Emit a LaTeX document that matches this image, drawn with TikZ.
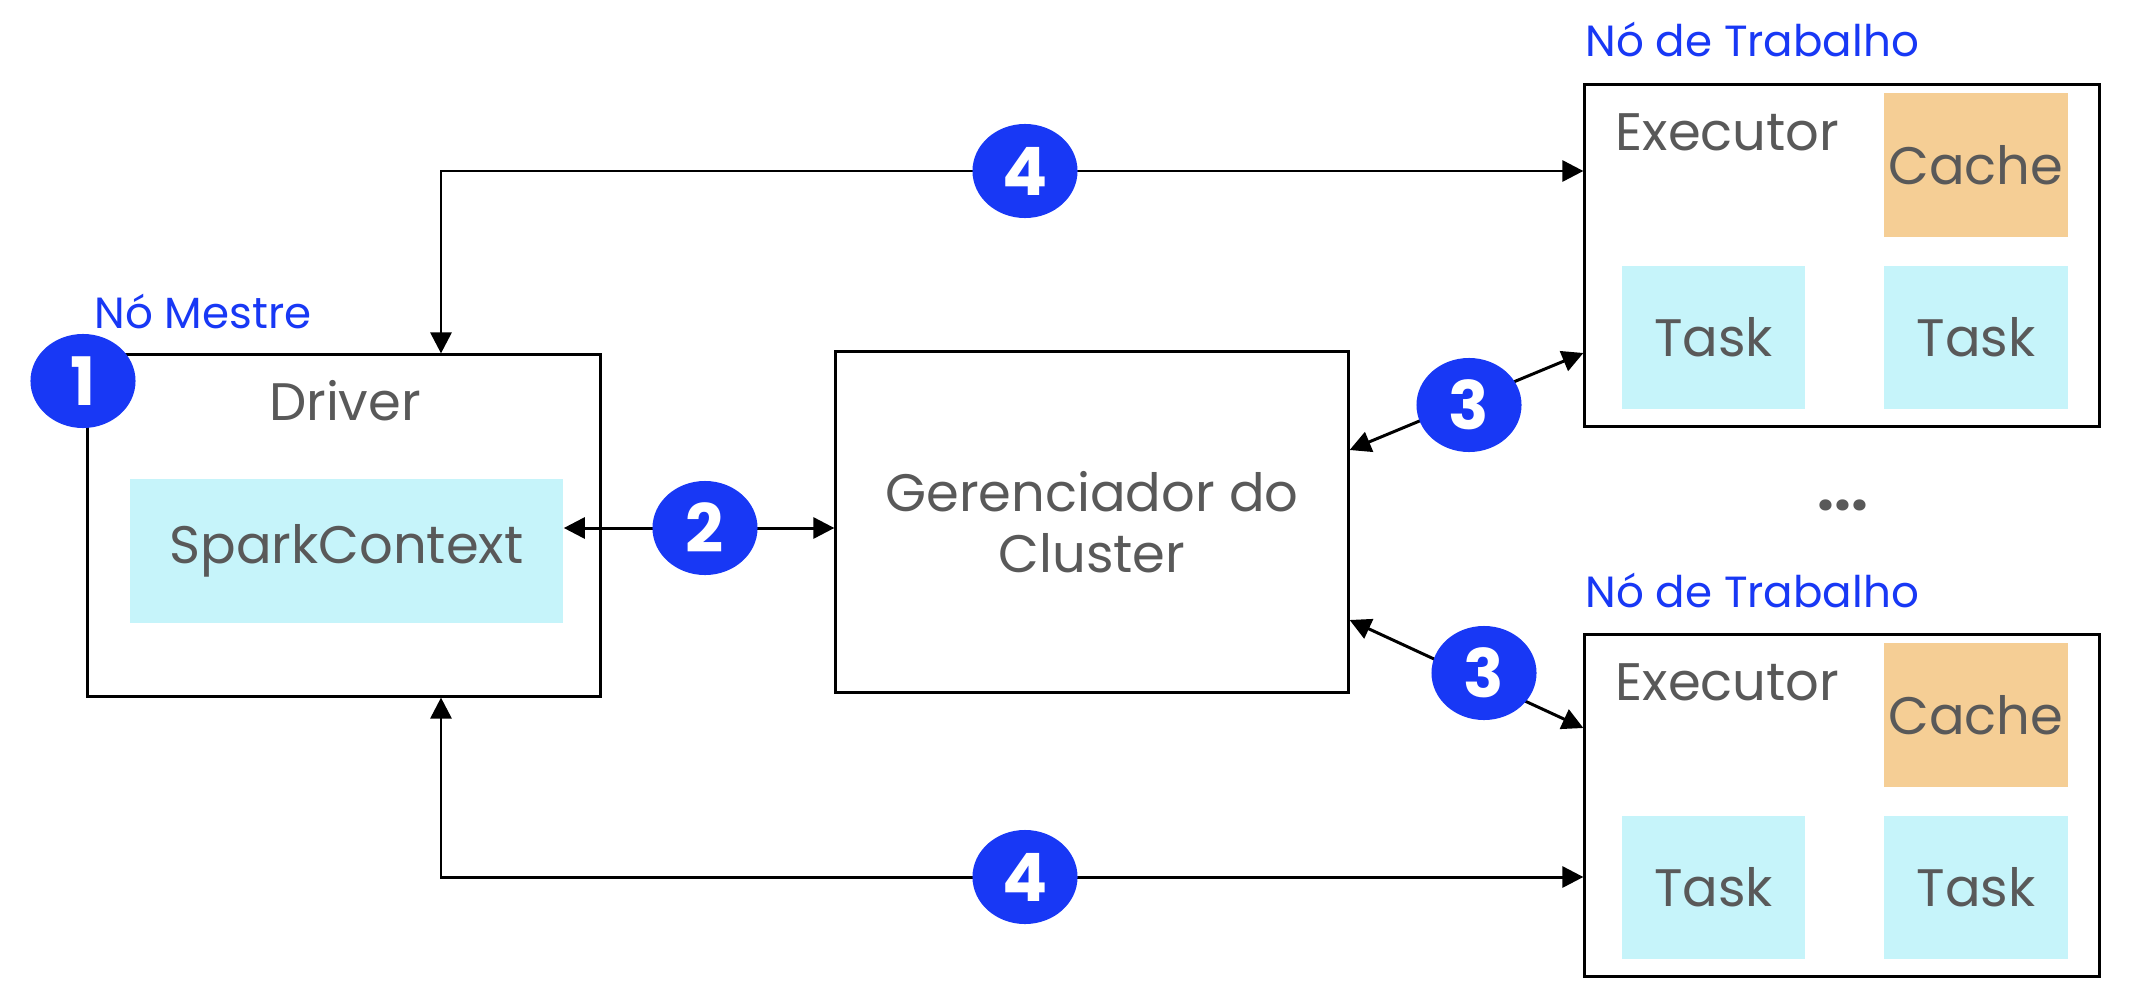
\documentclass[tikz,border=0pt]{standalone}
\usepackage{fontspec}
\setmainfont{Poppins}
\usetikzlibrary{arrows.meta,calc,shapes.geometric}
\definecolor{bblue}{RGB}{24,56,245}
\definecolor{tgray}{RGB}{89,89,89}
\definecolor{lcyan}{RGB}{198,244,250}
\definecolor{lorange}{RGB}{245,206,149}
\begin{document}
\begin{tikzpicture}[x=0.01cm,y=-0.01cm,
  box/.style={draw=black,line width=0.85pt,fill=white,inner sep=0pt},
  cyanbox/.style={fill=lcyan,inner sep=0pt,text=tgray,font=\fontsize{15}{17.4}\selectfont},
  cachebox/.style={fill=lorange,inner sep=0pt,text=tgray,font=\fontsize{15}{17.4}\selectfont},
  gtext/.style={inner sep=0pt,text=tgray,font=\fontsize{15}{17.4}\selectfont},
  blbl/.style={inner sep=0pt,text=bblue,font=\fontsize{12.4}{14}\selectfont,anchor=base west},
  badge/.style={ellipse,fill=bblue,text=white,inner sep=0pt,minimum width=1.05cm,minimum height=0.94cm,font=\fontsize{19}{20}\selectfont\bfseries},
  conn/.style={draw=black,line width=0.85pt,{Triangle[length=6pt,width=6pt]}-{Triangle[length=6pt,width=6pt]}}
]
\fill[white] (0,0) rectangle (2142,1006);
\useasboundingbox (0,0) rectangle (2142,1006);

% Master node
\node[box,minimum width=5.12cm,minimum height=3.41cm] (drv) at (344,525.5) {};
\node[cyanbox,minimum width=4.33cm,minimum height=1.44cm] (sc) at (346.5,551) {SparkContext};
\node[gtext,anchor=base] (drvlbl) at (345,420) {Driver};
\node[blbl] (mestre) at (94,328) {Nó Mestre};

% Cluster manager
\node[box,minimum width=5.12cm,minimum height=3.40cm,gtext,align=center] (cl) at (1092,522) {Gerenciador do\\Cluster};

% Worker 1
\node[box,minimum width=5.14cm,minimum height=3.41cm] (w1) at (1842,255.5) {};
\node[cachebox,minimum width=1.84cm,minimum height=1.44cm] (c1) at (1976,165) {Cache};
\node[cyanbox,minimum width=1.83cm,minimum height=1.43cm] (t1a) at (1713.5,337.5) {Task};
\node[cyanbox,minimum width=1.84cm,minimum height=1.43cm] (t1b) at (1976,337.5) {Task};
\node[gtext,anchor=base west] (e1) at (1615,150) {Executor};
\node[blbl] (wl1) at (1585,57) {Nó de Trabalho};

% dots
\node[gtext,font=\fontsize{17}{18}\selectfont\bfseries] (dots) at (1843,505) {...};

% Worker 2
\node[box,minimum width=5.14cm,minimum height=3.41cm] (w2) at (1842,805.5) {};
\node[cachebox,minimum width=1.84cm,minimum height=1.44cm] (c2) at (1976,715) {Cache};
\node[cyanbox,minimum width=1.83cm,minimum height=1.43cm] (t2a) at (1713.5,887.5) {Task};
\node[cyanbox,minimum width=1.84cm,minimum height=1.43cm] (t2b) at (1976,887.5) {Task};
\node[gtext,anchor=base west] (e2) at (1615,700) {Executor};
\node[blbl] (wl2) at (1585,607) {Nó de Trabalho};

% connector anchors
\coordinate (vx) at (441,0);
\coordinate (r4t) at (0,171);
\coordinate (r4b) at (0,877);
\coordinate (r2) at (0,528);

% connectors
\draw[conn] (drv.north -| vx) |- (w1.west |- r4t);
\draw[conn] (drv.south -| vx) |- (w2.west |- r4b);
\draw[conn] (sc.east |- r2) -- (cl.west |- r2);
\draw[conn] ($(cl.east)+(0,-72)$) -- ($(w1.west)+(0,97.5)$);
\draw[conn] ($(cl.east)+(0,98)$) -- ($(w2.west)+(0,-77.5)$);

% badges
\node[badge] (b1) at (83,381) {1};
\node[badge] (b2) at (705,528) {2};
\node[badge] (b3t) at (1469,405) {3};
\node[badge] (b3b) at (1484,673) {3};
\node[badge] (b4t) at (1025,171) {4};
\node[badge] (b4b) at (1025,877) {4};
\end{tikzpicture}
\end{document}
